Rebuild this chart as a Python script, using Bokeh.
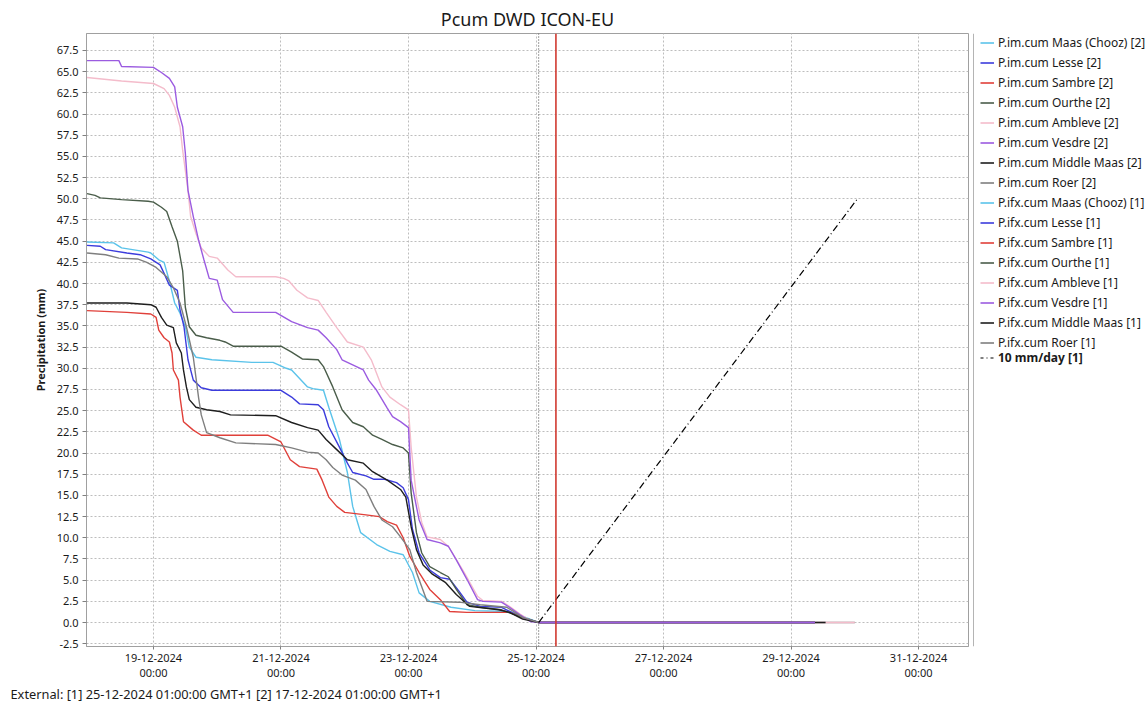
from datetime import datetime, timedelta
from bokeh.plotting import figure
from bokeh.layouts import row
from bokeh.models import (Range1d, FixedTicker, NumeralTickFormatter, Legend, LegendItem,
                          Span, Title)
from bokeh.embed import file_html
from bokeh.resources import INLINE

FONT = "Noto Sans"
BASE = datetime(2024, 12, 18, 0, 0)   # hours below are counted from this moment (GMT+1)

# ---------------- data ----------------
rivers = ["Maas (Chooz)", "Lesse", "Sambre", "Ourthe", "Ambleve", "Vesdre", "Middle Maas", "Roer"]
colors = ["#5bc3ea", "#3c3cdc", "#e0403a", "#4a5d4a", "#f4bccb", "#9b5be0", "#1e1e1e", "#7f7f7f"]

maas_h = [-1, 9, 12, 22, 23, 26, 28, 30, 32, 34, 36, 37.5, 40, 46, 61, 69, 74, 76, 82, 84, 88, 90, 94, 97,
          99, 102, 108, 113, 118, 121.5, 124, 128, 136, 145, 158, 164, 169]
maas_v = [44.9, 44.8, 44.2, 43.7, 43.6, 42.8, 42.5, 40.3, 37.7, 36.5, 34.9, 32.5, 31.3, 31.0, 30.7, 30.7,
          30.0, 29.8, 27.8, 27.6, 27.4, 25.4, 21.6, 17.7, 13.7, 10.6, 9.2, 8.4, 8.0, 5.9, 3.5, 2.5, 1.8,
          1.4, 1.3, 0.6, 0.0]

lesse_h = [-1, 4, 6, 14, 19, 23, 26.5, 28, 30, 33, 34, 35.5, 37, 39, 42, 46, 72, 76, 79, 86, 88, 90, 94,
           97, 99, 104, 107, 111, 115.5, 118, 120, 121.5, 124, 128, 132, 135.5, 139, 142, 147, 155, 162, 169]
lesse_v = [44.5, 44.4, 44.0, 43.6, 43.4, 42.9, 42.2, 41.2, 39.8, 39.2, 36.9, 34.9, 31.0, 28.6, 27.7, 27.4,
           27.4, 26.6, 25.8, 25.7, 25.1, 23.1, 20.7, 18.8, 17.7, 17.3, 16.9, 16.9, 16.5, 15.9, 14.5, 11.0,
           8.2, 6.2, 5.3, 5.1, 3.7, 2.4, 1.9, 1.8, 0.7, 0.0]

sambre_h = [-1, 14, 23, 25, 26, 28, 30, 31, 31.5, 33.4, 34, 35.3, 39, 42, 67, 72, 75.5, 79, 85.5, 87.5,
            90, 93, 96, 104, 109, 112, 115.5, 118, 120.5, 124, 128, 132, 135.5, 142, 158, 164.5, 169]
sambre_v = [36.8, 36.6, 36.4, 36.0, 34.5, 33.6, 33.1, 31.8, 29.8, 28.6, 26.6, 23.7, 22.7, 22.1, 22.1, 21.3,
            19.2, 18.4, 18.1, 16.8, 14.8, 13.7, 13.0, 12.7, 12.5, 11.9, 11.5, 10.0, 7.8, 5.9, 3.9, 2.7,
            1.3, 1.2, 1.2, 0.4, 0.0]

ourthe_h = [-1, 2, 4, 12, 22, 24, 27, 29, 31, 33, 35, 36, 37.5, 40, 44, 49, 51, 54, 72, 76, 80, 86, 88,
            91.5, 95, 99, 103, 106.5, 110, 114, 118, 120, 121, 123, 125, 128, 132, 135, 138, 142, 147,
            155, 162, 169]
ourthe_v = [50.6, 50.4, 50.1, 49.9, 49.7, 49.6, 49.0, 48.5, 46.7, 45.0, 41.5, 37.2, 34.9, 33.9, 33.6, 33.3,
            33.1, 32.6, 32.6, 31.9, 31.1, 31.0, 30.2, 27.8, 25.1, 23.6, 23.1, 22.1, 21.6, 21.0, 20.6, 20.0,
            15.3, 10.6, 8.2, 6.6, 5.9, 5.4, 3.9, 2.1, 1.8, 1.5, 0.7, 0.0]

ambleve_h = [-1, 12, 24, 28, 30, 32, 34, 35, 37, 38, 40, 42, 45, 48, 52, 55, 70, 73, 75, 78, 82, 86, 89,
             93, 97, 103, 106, 110, 113, 117, 120, 121, 123, 125, 127, 132, 135, 141, 146, 148, 155, 158,
             162, 166, 169]
ambleve_v = [64.3, 63.9, 63.6, 63.0, 62.2, 60.8, 58.5, 55.7, 51.0, 47.9, 45.9, 44.2, 43.2, 43.0, 41.6, 40.8,
             40.8, 40.6, 40.3, 39.2, 38.3, 38.0, 36.6, 34.8, 33.1, 32.5, 31.0, 27.8, 26.6, 25.7, 25.1, 20.7,
             14.8, 11.8, 10.1, 9.8, 9.0, 5.9, 3.1, 2.6, 2.5, 1.9, 1.0, 0.2, 0.0]

vesdre_h = [-1, 11, 12, 24, 27, 30, 32, 33, 35, 36, 37, 39, 41, 43, 45, 48, 50, 54, 70, 76, 82, 86, 89,
            93, 95, 99, 103, 105, 108, 112, 114, 117, 120, 121, 124, 127, 132, 135, 138, 142, 146, 148,
            155, 158, 162, 166, 169]
vesdre_v = [66.3, 66.3, 65.6, 65.5, 64.9, 64.2, 63.2, 60.8, 58.5, 55.4, 51.0, 47.9, 45.1, 42.8, 40.6, 40.4,
            38.1, 36.6, 36.6, 35.5, 34.8, 34.5, 33.6, 32.2, 31.0, 30.4, 29.8, 28.6, 27.4, 25.3, 24.3, 23.7,
            23.0, 16.8, 12.1, 9.8, 9.4, 9.0, 7.4, 5.1, 2.7, 2.5, 2.4, 1.8, 0.9, 0.1, 0.0]

middle_h = [-1, 14, 23, 25, 27, 29, 31.5, 32.6, 34.5, 35.3, 36.4, 37.5, 40, 44, 49, 53, 70, 76, 82, 86,
            89, 93, 97, 103, 106.5, 112, 117, 119, 121, 123, 125.5, 129, 134, 138, 143, 154, 158, 163, 169]
middle_v = [37.7, 37.7, 37.5, 37.2, 36.0, 35.1, 34.8, 33.0, 31.8, 29.8, 27.8, 26.3, 25.4, 25.1, 24.9, 24.5,
            24.4, 23.6, 23.0, 22.7, 21.6, 20.4, 19.2, 18.8, 17.8, 16.8, 15.7, 14.8, 11.3, 8.6, 6.8, 5.7,
            4.7, 3.3, 1.9, 1.5, 1.2, 0.4, 0.0]

roer_h = [-1, 6, 11, 18, 21.5, 25, 29, 31.5, 34, 36.4, 39, 41, 42, 44, 49, 55, 70, 76, 82, 86, 89, 91.5,
          95, 100, 104, 107, 110, 114, 117, 120.5, 123, 127, 139, 147, 157, 163, 169]
roer_v = [43.6, 43.4, 43.0, 42.9, 42.5, 41.9, 40.8, 39.5, 37.7, 34.9, 31.3, 26.5, 24.5, 22.4, 21.8, 21.2,
          21.0, 20.6, 20.1, 20.0, 19.2, 18.3, 17.4, 16.8, 15.7, 13.7, 12.1, 11.3, 10.1, 8.6, 5.9, 2.5, 2.4,
          2.1, 1.8, 0.6, 0.0]

im_hours = [maas_h, lesse_h, sambre_h, ourthe_h, ambleve_h, vesdre_h, middle_h, roer_h]
im_values = [maas_v, lesse_v, sambre_v, ourthe_v, ambleve_v, vesdre_v, middle_v, roer_v]

# forecast run [1]: zero accumulation from the forecast time to each series' end
ifx_start_h = 169
ifx_end_h = [273, 273, 273, 273, 288, 273, 277, 288]
ifx_v = [0.0, 0.0]
ifx_draw_order = [7, 4, 6, 0, 1, 2, 3, 5]

rate_h = [169, 289]
rate_v = [0.0, 50.0]

forecast_h = 169      # 25-12-2024 01:00
now_h = 175.5         # red marker

tick_dates = ["2024-12-19", "2024-12-21", "2024-12-23", "2024-12-25", "2024-12-27", "2024-12-29", "2024-12-31"]
tick_labels = ["19-12-2024\n00:00", "21-12-2024\n00:00", "23-12-2024\n00:00", "25-12-2024\n00:00",
               "27-12-2024\n00:00", "29-12-2024\n00:00", "31-12-2024\n00:00"]
y_ticks = [-2.5, 0.0, 2.5, 5.0, 7.5, 10.0, 12.5, 15.0, 17.5, 20.0, 22.5, 25.0, 27.5, 30.0, 32.5, 35.0,
           37.5, 40.0, 42.5, 45.0, 47.5, 50.0, 52.5, 55.0, 57.5, 60.0, 62.5, 65.0, 67.5]

x_start_h, x_end_h = -1.2, 330.8
y_start, y_end = -2.83, 69.5

title_text = "Pcum DWD ICON-EU"
footer_text = "External: [1] 25-12-2024 01:00:00 GMT+1 [2] 17-12-2024 01:00:00 GMT+1"
y_label = "Precipitation (mm)"

# ---------------- helpers ----------------
EPOCH = datetime(1970, 1, 1)


def t(h):
    return BASE + timedelta(hours=h)


def ms(dt):
    return int(round((dt - EPOCH).total_seconds() * 1000))


TOTAL_W, TOTAL_H = 1148, 702
MAIN_W = 970
LEG_W = TOTAL_W - MAIN_W
FRAME_BOTTOM = 647     # expected screen y of the plot frame's lower edge

# ---------------- main figure ----------------
p = figure(width=MAIN_W, height=TOTAL_H, x_axis_type="datetime", output_backend="svg", toolbar_location=None,
           x_range=Range1d(t(x_start_h), t(x_end_h)), y_range=Range1d(y_start, y_end),
           min_border_left=86, min_border_right=2, min_border_top=33, min_border_bottom=50)
p.background_fill_color = "white"
p.border_fill_color = "white"
p.outline_line_color = "#a0a0a0"

p.title.text = title_text
p.title.align = "center"
p.title.text_font = FONT
p.title.text_font_size = "18px"
p.title.text_font_style = "normal"
p.title.text_color = "#1a1a1a"
p.title.standoff = 6

im_renderers = []
for hrs, vals, col in zip(im_hours, im_values, colors):
    r = p.line([t(h) for h in hrs], vals, line_color=col, line_width=1.4)
    im_renderers.append(r)

for i in ifx_draw_order:
    p.line([t(ifx_start_h), t(ifx_end_h[i])], ifx_v, line_color=colors[i], line_width=1.6)

RATE_DASH = "7 3 1 3"
p.line([t(h) for h in rate_h], rate_v, line_color="black", line_width=1.2, line_dash=RATE_DASH)

p.add_layout(Span(location=ms(t(forecast_h)), dimension="height", line_color="#444444",
                  line_dash="1 2", line_width=1))
p.add_layout(Span(location=ms(t(now_h)), dimension="height", line_color="#d03a30", line_width=1.6))

# axes
tick_ms = [ms(datetime.strptime(d, "%Y-%m-%d")) for d in tick_dates]
p.xaxis.ticker = FixedTicker(ticks=tick_ms)
p.xaxis.major_label_overrides = {k: lab for k, lab in zip(tick_ms, tick_labels)}
p.xaxis.major_label_text_line_height = 1.0
p.yaxis.ticker = FixedTicker(ticks=y_ticks)
p.yaxis.formatter = NumeralTickFormatter(format="0.0")
p.yaxis.axis_label = y_label
p.yaxis.axis_label_text_font = FONT
p.yaxis.axis_label_text_font_size = "11px"
p.yaxis.axis_label_text_font_style = "bold"
p.yaxis.axis_label_text_color = "#1a1a1a"
p.yaxis.axis_label_standoff = 6
for ax in (p.xaxis[0], p.yaxis[0]):
    ax.major_label_text_font = FONT
    ax.major_label_text_font_size = "11px"
    ax.major_label_text_color = "#1a1a1a"
    ax.axis_line_color = "#a0a0a0"
    ax.major_tick_line_color = "#808080"
    ax.major_tick_in = 0
    ax.minor_tick_out = 0
    ax.minor_tick_in = 0
p.yaxis.major_tick_out = 4
p.yaxis.major_label_standoff = 4
p.xaxis.major_tick_out = 3
p.xaxis.major_label_standoff = 0

p.xgrid.ticker = FixedTicker(ticks=tick_ms)
p.ygrid.ticker = FixedTicker(ticks=y_ticks)
for g in (p.xgrid[0], p.ygrid[0]):
    g.grid_line_color = "#bdbdbd"
    g.grid_line_dash = "2 2"
    g.grid_line_width = 1

p.add_layout(Title(text=footer_text, align="left", offset=-76, text_font=FONT, text_font_size="12.8px",
                   text_font_style="normal", text_color="#1a1a1a", standoff=0), "below")

# ---------------- legend panel (separate figure on the right) ----------------
lg = figure(width=LEG_W, height=TOTAL_H, output_backend="svg", toolbar_location=None,
            x_range=Range1d(0, LEG_W), y_range=Range1d(0, 1),
            x_axis_location=None, y_axis_location=None,
            min_border_left=0, min_border_right=0, min_border_top=33, min_border_bottom=TOTAL_H - FRAME_BOTTOM)
lg.title.visible = False
lg.grid.visible = False
lg.outline_line_color = None
lg.background_fill_color = "white"
lg.border_fill_color = "white"
lg.add_layout(Span(location=3, dimension="height", line_color="#b4b4b4", line_width=1))

# legend keys: off-screen stand-ins carrying the same styles as the plotted series
KEY_X, KEY_Y = [-50, -40], [-5, -4]
key_im = [lg.line(x=KEY_X, y=KEY_Y, line_color=c, line_width=1.6) for c in colors]
key_ifx = [lg.line(x=KEY_X, y=KEY_Y, line_color=c, line_width=1.6) for c in colors]
key_rate = lg.line(x=KEY_X, y=KEY_Y, line_color="black", line_width=1.2, line_dash="3 3 1 3")

items1 = []
for name, r in zip(rivers, key_im):
    items1.append(LegendItem(label="P.im.cum %s [2]" % name, renderers=[r]))
for name, r in zip(rivers, key_ifx):
    items1.append(LegendItem(label="P.ifx.cum %s [1]" % name, renderers=[r]))

common = dict(orientation="vertical", glyph_width=14, glyph_height=15, label_height=15, spacing=3,
              padding=0, margin=0, label_standoff=4, border_line_color=None, background_fill_alpha=0,
              label_text_font=FONT, label_text_font_size="12px", label_text_color="#1a1a1a")
leg1_top, leg1_h = 35, 317
leg2_top, leg2_h = 350, 17
leg1 = Legend(items=items1, location=(10, FRAME_BOTTOM - leg1_top - leg1_h), **common)
leg2 = Legend(items=[LegendItem(label="10 mm/day [1]", renderers=[key_rate])],
              location=(10, FRAME_BOTTOM - leg2_top - leg2_h), label_text_font_style="bold", **common)
lg.add_layout(leg1)
lg.add_layout(leg2)

layout = row(p, lg)
open("out.html", "w").write(file_html(layout, INLINE))
